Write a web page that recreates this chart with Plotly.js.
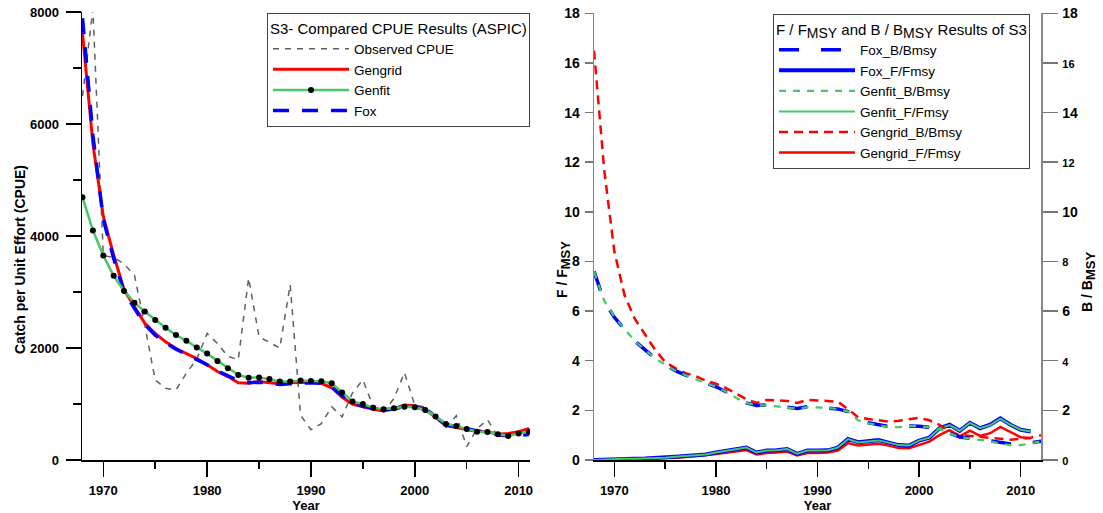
<!DOCTYPE html>
<html><head><meta charset="utf-8">
<script src="https://cdn.plot.ly/plotly-3.0.1.min.js"></script>
<style>html,body{margin:0;padding:0;background:#fff;}#chart{width:1103px;height:513px;}</style>
</head><body><div id="chart"></div>
<script>
// ---------- Left panel: CPUE ----------
const yearsCPUE = [1968,1969,1970,1971,1972,1973,1974,1975,1976,1977,1978,1979,1980,1981,1982,1983,1984,1985,1986,1987,1988,1989,1990,1991,1992,1993,1994,1995,1996,1997,1998,1999,2000,2001,2002,2003,2004,2005,2006,2007,2008,2009,2010,2011];
const observedCPUE = [6500,8050,3650,3620,3500,3300,2400,1430,1280,1250,1550,1800,2260,2080,1850,1790,3250,2200,2100,2000,3130,800,540,650,950,770,1200,1430,950,860,1100,1560,980,950,800,580,790,240,560,720,420,470,450,520];
const gengridCPUE = [7620,5650,4350,3660,3040,2740,2440,2260,2110,1990,1900,1810,1700,1580,1490,1380,1370,1400,1380,1360,1380,1380,1390,1370,1290,1120,1000,950,905,875,915,980,970,905,760,615,580,540,510,505,460,475,505,565];
const genfitCPUE = [4690,4100,3650,3290,3020,2810,2650,2500,2360,2230,2130,2010,1900,1770,1640,1520,1470,1475,1445,1400,1400,1420,1410,1405,1370,1205,1045,1000,935,905,925,950,940,895,775,645,605,555,505,500,460,430,475,505];
const foxCPUE = [7890,5800,4300,3600,3000,2700,2420,2230,2090,1980,1890,1800,1700,1590,1500,1420,1380,1390,1370,1350,1360,1370,1380,1370,1300,1150,1030,960,930,900,910,960,950,900,770,630,600,560,520,500,450,430,445,455];

// ---------- Right panel: F/Fmsy and B/Bmsy ----------
const yearsF = [1968,1969,1970,1971,1972,1973,1974,1975,1976,1977,1978,1979,1980,1981,1982,1983,1984,1985,1986,1987,1988,1989,1990,1991,1992,1993,1994,1995,1996,1997,1998,1999,2000,2001,2002,2003,2004,2005,2006,2007,2008,2009,2010,2011];
const yearsB = [1968,1969,1970,1971,1972,1973,1974,1975,1976,1977,1978,1979,1980,1981,1982,1983,1984,1985,1986,1987,1988,1989,1990,1991,1992,1993,1994,1995,1996,1997,1998,1999,2000,2001,2002,2003,2004,2005,2006,2007,2008,2009,2010,2011,2012];
const foxB = [7.6,6.4,5.75,5.3,4.8,4.45,4.1,3.85,3.6,3.42,3.25,3.1,2.95,2.75,2.5,2.3,2.2,2.22,2.18,2.12,2.08,2.15,2.13,2.1,2.06,1.95,1.62,1.5,1.42,1.35,1.33,1.37,1.36,1.32,1.24,1.08,0.93,0.87,0.8,0.77,0.7,0.65,0.63,0.68,0.76];
const genfitB = [7.6,6.42,5.77,5.3,4.8,4.45,4.1,3.85,3.6,3.42,3.25,3.1,2.95,2.75,2.5,2.3,2.2,2.2,2.16,2.1,2.07,2.13,2.12,2.1,2.06,1.95,1.6,1.48,1.4,1.33,1.32,1.37,1.36,1.32,1.24,1.08,0.92,0.86,0.8,0.76,0.66,0.6,0.6,0.66,0.75];
const gengridB = [16.5,11.7,8.4,6.65,5.7,5.05,4.45,3.95,3.7,3.5,3.38,3.2,3.08,2.9,2.68,2.45,2.3,2.42,2.4,2.38,2.3,2.42,2.4,2.38,2.35,2.05,1.72,1.65,1.6,1.55,1.58,1.65,1.7,1.6,1.42,1.15,1.0,0.97,0.93,0.9,0.87,0.82,0.85,0.9,1.0];
const foxF = [0.0,0.02,0.04,0.05,0.05,0.06,0.07,0.09,0.13,0.16,0.19,0.22,0.3,0.36,0.43,0.5,0.3,0.38,0.39,0.44,0.25,0.38,0.38,0.39,0.5,0.85,0.72,0.76,0.8,0.7,0.6,0.58,0.78,0.9,1.28,1.42,1.18,1.5,1.28,1.42,1.68,1.42,1.22,1.15];
const genfitF = [0.0,0.02,0.04,0.05,0.05,0.06,0.07,0.09,0.13,0.16,0.19,0.22,0.3,0.36,0.43,0.5,0.3,0.38,0.39,0.44,0.25,0.38,0.38,0.39,0.5,0.84,0.71,0.76,0.79,0.7,0.6,0.58,0.78,0.9,1.27,1.41,1.18,1.49,1.28,1.41,1.67,1.42,1.22,1.15];
const gengridF = [0.0,0.01,0.02,0.03,0.03,0.04,0.05,0.06,0.09,0.12,0.15,0.18,0.24,0.29,0.35,0.4,0.22,0.28,0.3,0.34,0.18,0.28,0.28,0.3,0.38,0.68,0.58,0.62,0.65,0.58,0.48,0.47,0.6,0.74,1.0,1.2,0.95,1.18,0.97,1.08,1.33,1.12,0.92,0.88];

const rightTickVals = [0,2,4,6,8,10,12,14,16,18];
const rightTickText = ['<span style="font-size:11px">0</span>','2','<span style="font-size:11px">4</span>','6','<span style="font-size:11px">8</span>','10','<span style="font-size:11px">12</span>','14','<span style="font-size:11px">16</span>','18'];

const FONT = '"Liberation Sans", Arial, sans-serif';
const RED = '#ff0000', BLUE = '#0000ff', GREEN = '#46c864', GRAY = '#606060';
const MSY = '<sub><span style="font-size:13px">MSY</span></sub>';
const MSY_LEG = '<sub><span style="font-size:14px">MSY</span></sub>';

const traces = [
  {x: yearsCPUE, y: observedCPUE, name: 'Observed CPUE', mode: 'lines', xaxis: 'x', yaxis: 'y', legend: 'legend', legendrank: 1,
   line: {color: GRAY, width: 1.5, dash: '6px,6px'}},
  {x: yearsCPUE, y: gengridCPUE, name: 'Gengrid', mode: 'lines', xaxis: 'x', yaxis: 'y', legend: 'legend', legendrank: 2,
   line: {color: RED, width: 3}},
  {x: yearsCPUE, y: foxCPUE, name: 'Fox', mode: 'lines', xaxis: 'x', yaxis: 'y', legend: 'legend', legendrank: 4,
   line: {color: BLUE, width: 3.5, dash: '16px,13px'}},
  {x: yearsCPUE, y: genfitCPUE, name: 'Genfit', mode: 'lines+markers', xaxis: 'x', yaxis: 'y', legend: 'legend', legendrank: 3,
   line: {color: GREEN, width: 2.5}, marker: {color: '#000', size: 6}},

  {x: yearsB, y: gengridB, name: 'Gengrid_B/Bmsy', mode: 'lines', xaxis: 'x2', yaxis: 'y3', legend: 'legend2', legendrank: 5,
   line: {color: RED, width: 2.5, dash: '9px,6px'}},
  {x: yearsF, y: gengridF, name: 'Gengrid_F/Fmsy', mode: 'lines', xaxis: 'x2', yaxis: 'y2', legend: 'legend2', legendrank: 6,
   line: {color: RED, width: 2.5}},
  {x: yearsB, y: foxB, name: 'Fox_B/Bmsy', mode: 'lines', xaxis: 'x2', yaxis: 'y3', legend: 'legend2', legendrank: 1,
   line: {color: BLUE, width: 3.5, dash: '20px,22px'}},
  {x: yearsB, y: genfitB, name: 'Genfit_B/Bmsy', mode: 'lines', xaxis: 'x2', yaxis: 'y3', legend: 'legend2', legendrank: 3,
   line: {color: GREEN, width: 2.2, dash: '7px,7px'}},
  {x: yearsF, y: foxF, name: 'Fox_F/Fmsy', mode: 'lines', xaxis: 'x2', yaxis: 'y2', legend: 'legend2', legendrank: 2,
   line: {color: BLUE, width: 4}},
  {x: yearsF, y: genfitF, name: 'Genfit_F/Fmsy', mode: 'lines', xaxis: 'x2', yaxis: 'y2', legend: 'legend2', legendrank: 4,
   line: {color: GREEN, width: 2}}
];

const tickFont = {family: FONT, size: 13, color: '#000', weight: 'bold'};
const titleFont = {family: FONT, size: 14, color: '#000', weight: 'bold'};
const baseX = {
  ticks: 'outside', ticklen: 15, tickwidth: 1.5, tickcolor: '#000',
  showline: true, linecolor: '#000', linewidth: 1.5, showgrid: false, zeroline: false,
  tick0: 1970, dtick: 10, tickfont: tickFont, ticklabelstandoff: 3, tickangle: 0, automargin: false,
  minor: {tick0: 1970, dtick: 5, ticks: 'outside', ticklen: 7, tickwidth: 1.5, tickcolor: '#000', showgrid: false},
  title: {text: 'Year', font: {family: FONT, size: 13, color: '#000', weight: 'bold'}, standoff: 1}
};

const layout = {
  width: 1103, height: 513,
  margin: {l: 82, r: 62, t: 12, b: 53, autoexpand: false},
  paper_bgcolor: '#fff', plot_bgcolor: 'rgba(0,0,0,0)',
  font: {family: FONT, color: '#000'},
  showlegend: true,
  xaxis: Object.assign({}, baseX, {domain: [0, 0.4672], range: [1967.95, 2011.1], anchor: 'y'}),
  yaxis: {domain: [0, 1], range: [0, 8000], dtick: 2000, anchor: 'x', automargin: false,
    ticks: 'outside', ticklen: 15, tickwidth: 1.5, tickcolor: '#000',
    showline: true, linecolor: '#000', linewidth: 1.5, showgrid: false, zeroline: false,
    tickfont: tickFont, ticklabelstandoff: 4,
    minor: {dtick: 1000, ticks: 'outside', ticklen: 8, tickwidth: 1.5, tickcolor: '#000', showgrid: false}},
  xaxis2: Object.assign({}, baseX, {domain: [0.5339, 1], range: [1968, 2012], anchor: 'y2'}),
  yaxis2: {domain: [0, 0.997], range: [0, 18], dtick: 2, anchor: 'x2', automargin: false,
    ticks: 'outside', ticklen: 8, tickwidth: 1.5, tickcolor: '#777',
    showline: true, linecolor: '#888', linewidth: 1.5, showgrid: false, zeroline: false,
    tickfont: {family: FONT, size: 14, color: '#000', weight: 'bold'}, ticklabelstandoff: 2},
  yaxis3: {overlaying: 'y2', side: 'right', anchor: 'x2', range: [0, 18], automargin: false,
    tickmode: 'array', tickvals: rightTickVals, ticktext: rightTickText,
    ticks: 'outside', ticklen: 15, tickwidth: 1.5, tickcolor: '#777',
    showline: true, linecolor: '#888', linewidth: 1.5, showgrid: false, zeroline: false,
    tickfont: {family: FONT, size: 14, color: '#000', weight: 'bold'}, ticklabelstandoff: 2},
  legend: {xref: 'paper', yref: 'paper', x: (267 - 82)/959, y: (460 - 13)/448, xanchor: 'left', yanchor: 'top',
    bgcolor: '#fff', bordercolor: '#444', borderwidth: 1, itemwidth: 76, tracegroupgap: 0,
    font: {family: FONT, size: 13.5, color: '#000'},
    title: {text: 'S3- Compared CPUE Results (ASPIC)', font: {family: FONT, size: 15, color: '#000'}}},
  legend2: {xref: 'paper', yref: 'paper', x: (773 - 82)/959, y: (460 - 14)/448, xanchor: 'left', yanchor: 'top',
    bgcolor: '#fff', bordercolor: '#444', borderwidth: 1, itemwidth: 76, tracegroupgap: 0,
    font: {family: FONT, size: 13.5, color: '#000'},
    title: {text: 'F / F' + MSY_LEG + ' and B / B' + MSY_LEG + ' Results of S3', font: {family: FONT, size: 15, color: '#000'}}},
  annotations: [
    {text: 'Catch per Unit Effort (CPUE)', xref: 'paper', yref: 'paper', x: (20 - 82)/959, y: (460 - 260)/448,
     textangle: -90, showarrow: false, xanchor: 'center', yanchor: 'middle', font: titleFont},
    {text: 'F / F' + MSY, xref: 'paper', yref: 'paper', x: (563 - 82)/959, y: (460 - 270)/448,
     textangle: -90, showarrow: false, xanchor: 'center', yanchor: 'middle', font: titleFont},
    {text: 'B / B' + MSY, xref: 'paper', yref: 'paper', x: (1088 - 82)/959, y: (460 - 282)/448,
     textangle: -90, showarrow: false, xanchor: 'center', yanchor: 'middle', font: titleFont}
  ]
};

Plotly.newPlot('chart', traces, layout, {staticPlot: true, displayModeBar: false});
</script></body></html>
